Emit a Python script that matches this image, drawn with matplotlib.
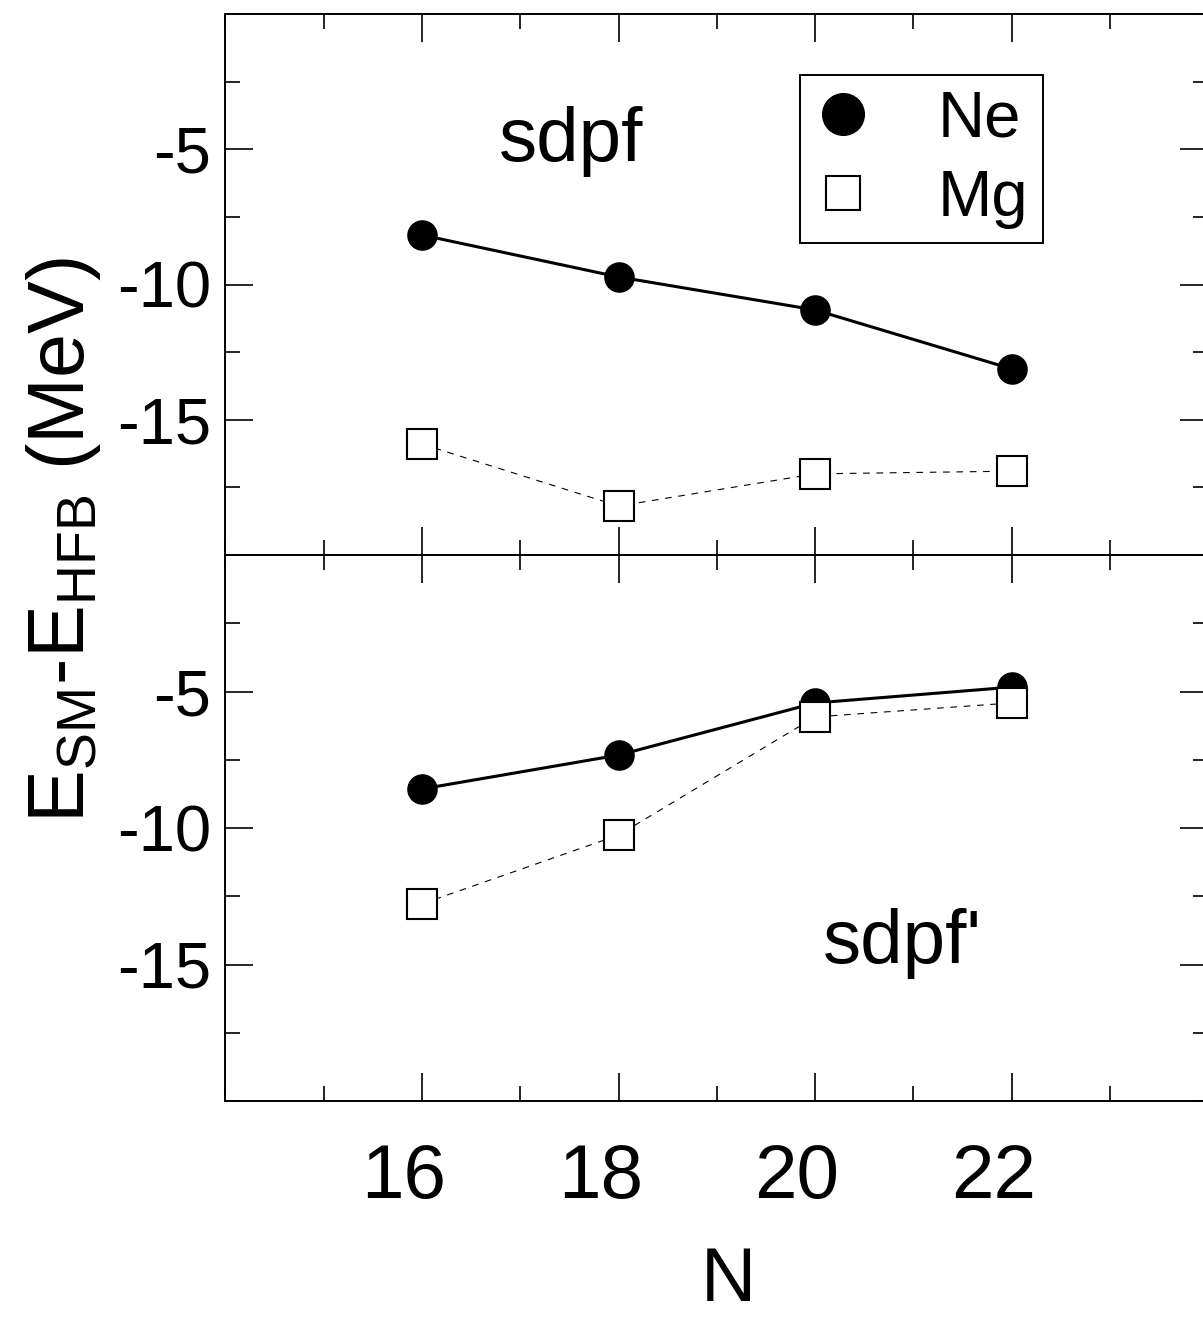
import matplotlib
matplotlib.use("Agg")
import matplotlib.pyplot as plt
from matplotlib.lines import Line2D
from matplotlib.ticker import MultipleLocator
from matplotlib.transforms import ScaledTranslation

# ----------------------------------------------------------------------------
# data (E_SM - E_HFB in MeV vs neutron number N)
# ----------------------------------------------------------------------------
n_vals = [16, 18, 20, 22]

ne_sdpf = [-8.17, -9.72, -10.94, -13.12]
mg_sdpf = [-15.90, -18.19, -17.00, -16.90]

ne_sdpf_p = [-8.57, -7.33, -5.42, -4.84]
mg_sdpf_p = [-12.78, -10.26, -5.93, -5.42]

x_ticks = [16, 18, 20, 22]
y_ticks = [-15, -10, -5]
panel_labels = ["sdpf", "sdpf'"]

plt.rcParams["font.family"] = ["Liberation Sans", "DejaVu Sans"]
plt.rcParams["axes.unicode_minus"] = False
plt.rcParams["mathtext.default"] = "regular"

W, H = 1203, 1318
fig = plt.figure(figsize=(W / 100, H / 100), dpi=100)

# axes boxes in pixels -> figure fractions (right edge runs past the image)
left, right = 225.3, 1208.3
ax_top = fig.add_axes([left / W, 1 - 555 / H, (right - left) / W, (555 - 14) / H])
ax_bot = fig.add_axes([left / W, 1 - 1101 / H, (right - left) / W, (1101 - 555) / H])


def style_axis(ax, show_x):
    ax.set_xlim(14, 24)
    ax.set_ylim(-20, 0)
    ax.set_xticks(x_ticks)
    ax.set_yticks(y_ticks)
    ax.set_yticklabels([str(v) for v in y_ticks])
    ax.xaxis.set_minor_locator(MultipleLocator(1))
    ax.yaxis.set_minor_locator(MultipleLocator(2.5))
    ax.tick_params(which="both", direction="in", top=True, right=True,
                   width=1.2, color="black")
    ax.tick_params(which="major", length=20)
    ax.tick_params(which="minor", length=11)
    ax.tick_params(axis="y", labelsize=47, pad=10)
    ax.tick_params(axis="x", labelsize=55, pad=30, labelbottom=show_x)
    for s in ax.spines.values():
        s.set_linewidth(1.4)


style_axis(ax_top, False)
style_axis(ax_bot, True)

# x labels sit a bit left of their ticks in the original
shift = ScaledTranslation(-18 / 100, 0, fig.dpi_scale_trans)
for lab in ax_bot.get_xticklabels():
    lab.set_transform(lab.get_transform() + shift)

# --- top panel: sdpf ---------------------------------------------------------
ax_top.plot(n_vals, ne_sdpf, "-o", color="black", lw=2.2, ms=21, zorder=3)
ax_top.plot(n_vals, mg_sdpf, "s", ls=(0, (6, 6)), color="black", lw=0.8,
            ms=21, mfc="white", mec="black", mew=1.5, zorder=4)
ax_top.text(16.78, -5.43, panel_labels[0], fontsize=55, ha="left", va="baseline")

# --- bottom panel: sdpf' ---------------------------------------------------
ax_bot.plot(n_vals, ne_sdpf_p, "-o", color="black", lw=2.2, ms=21, zorder=3)
ax_bot.plot(n_vals, mg_sdpf_p, "s", ls=(0, (6, 6)), color="black", lw=0.8,
            ms=21, mfc="white", mec="black", mew=1.5, zorder=4)
ax_bot.text(20.08, -14.95, panel_labels[1], fontsize=55, ha="left", va="baseline")

# --- legend ------------------------------------------------------------------
handles = [
    Line2D([], [], ls="none", marker="o", ms=30, color="black"),
    Line2D([], [], ls="none", marker="s", ms=25, mfc="white", mec="black", mew=1.5),
]
leg = ax_top.legend(handles, ["Ne", "Mg"], loc="upper left",
                    bbox_to_anchor=(800 / W, 1 - 75 / H), bbox_transform=fig.transFigure,
                    borderaxespad=0, fontsize=47, frameon=True, fancybox=False,
                    framealpha=1.0, handlelength=0.88, handletextpad=1.01,
                    borderpad=0.22, labelspacing=0.3)
leg.get_frame().set_edgecolor("black")
leg.get_frame().set_linewidth(1.4)

# --- shared labels -----------------------------------------------------------
fig.text(64 / W, 1 - 540 / H, "E$_{SM}$-E$_{HFB}$ (MeV)", rotation=90,
         fontsize=57, ha="center", va="center")
fig.text(728 / W, 1 - 1301 / H, "N", fontsize=55, ha="center", va="baseline")

fig.savefig("out.png", dpi=100)
